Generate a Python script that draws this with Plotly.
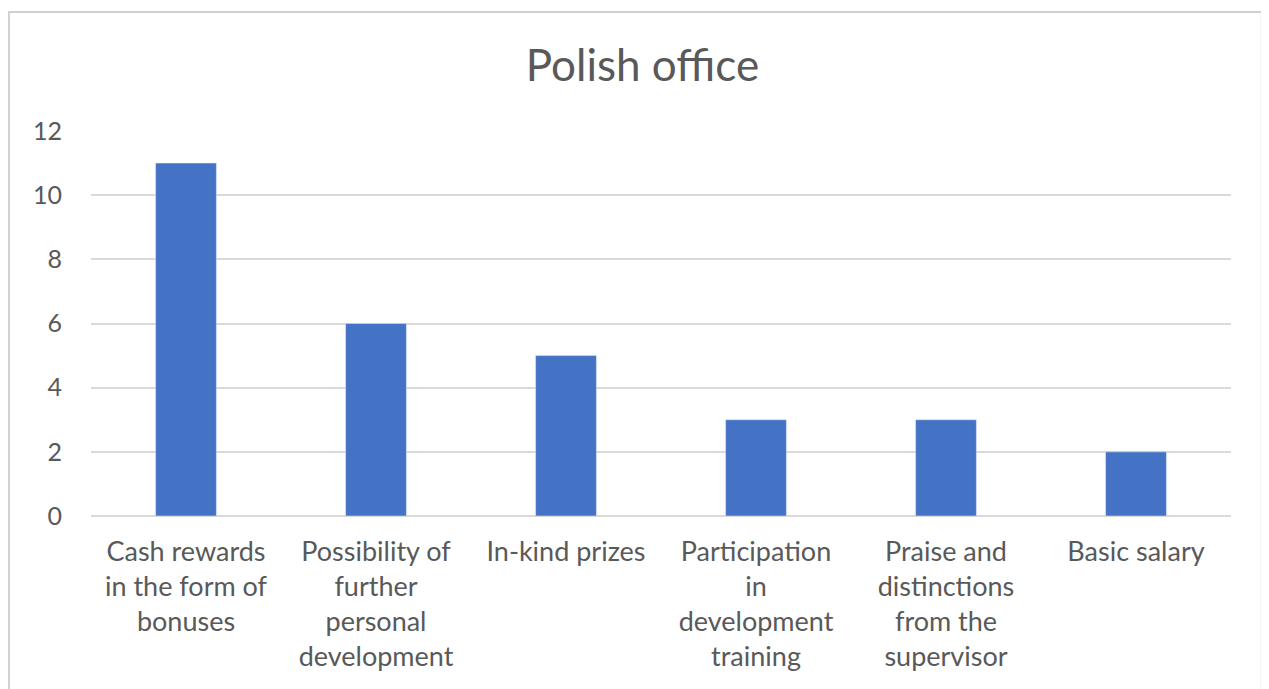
import plotly.graph_objects as go

categories = [
    "Cash rewards<br>in the form of<br>bonuses",
    "Possibility of<br>further<br>personal<br>development",
    "In-kind prizes",
    "Participation<br>in<br>development<br>training",
    "Praise and<br>distinctions<br>from the<br>supervisor",
    "Basic salary",
]
values = [11, 6, 5, 3, 3, 2]
y_ticks = [0, 2, 4, 6, 8, 10, 12]

fig = go.Figure(go.Bar(x=categories, y=values, marker_color="#4472c4", width=0.32))

fig.update_layout(
    width=1269, height=689,
    paper_bgcolor="white", plot_bgcolor="white",
    margin=dict(l=83, r=46, t=123, b=181, autoexpand=False),
    title=dict(text="Polish office", x=0.5, xanchor="center", y=1 - 58 / 689, yanchor="middle",
               font=dict(family="Lato", size=44, color="#595959")),
    font=dict(family="Lato", size=27, color="#595959"),
    showlegend=False,
)
fig.update_yaxes(range=[0, 12], tickvals=y_ticks, showgrid=True, gridcolor="#d9d9d9", gridwidth=1.5,
                 zeroline=True, zerolinecolor="#d9d9d9", zerolinewidth=1.5,
                 ticklabelstandoff=28, tickfont=dict(size=25), fixedrange=True)
fig.update_xaxes(showgrid=False, tickangle=0, ticklabelstandoff=17, showline=False)

# chart frame
fig.add_shape(type="rect", xref="paper", yref="paper", x0=-0.072, x1=1.027, y0=-0.6, y1=1.309,
              line=dict(color="#d0d0d0", width=2), fillcolor="rgba(0,0,0,0)", layer="below")

fig.write_html("out.html")
